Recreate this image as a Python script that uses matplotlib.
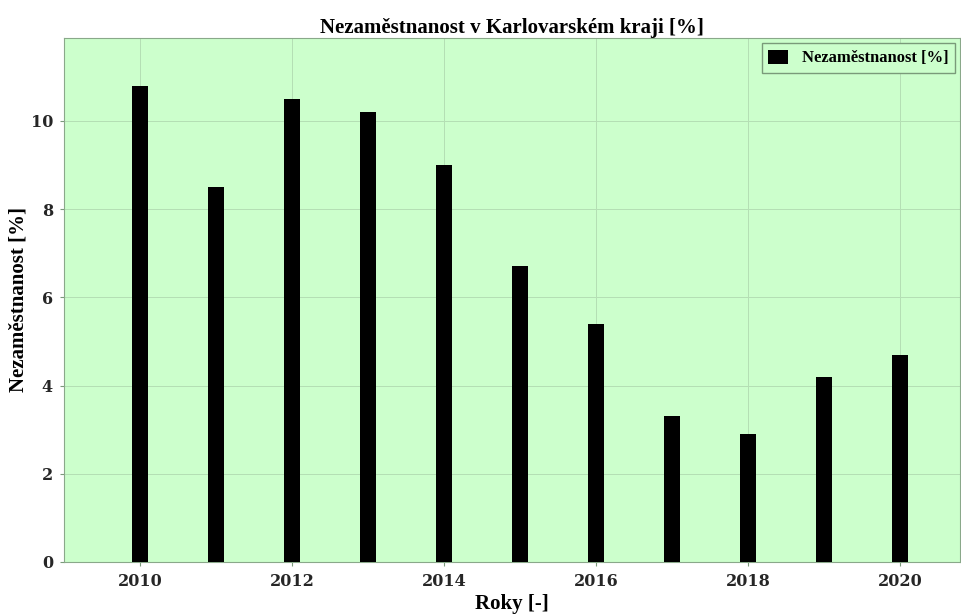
import matplotlib
matplotlib.use("Agg")
import matplotlib.pyplot as plt

years = [2010, 2011, 2012, 2013, 2014, 2015, 2016, 2017, 2018, 2019, 2020]
values = [10.8, 8.5, 10.5, 10.2, 9.0, 6.7, 5.4, 3.3, 2.9, 4.2, 4.7]
xticks = [2010, 2012, 2014, 2016, 2018, 2020]
yticks = [0, 2, 4, 6, 8, 10]

plt.rcParams['font.family'] = ['Liberation Serif', 'DejaVu Serif']
plt.rcParams['font.weight'] = 'bold'

fig = plt.figure(figsize=(9.62, 6.16), dpi=100)
ax_left, ax_w = 64/962, (960-64)/962
ax = fig.add_axes([ax_left, 1-562/616, ax_w, (562-38)/616])
ax.set_facecolor('#ccffcc')
ax.bar(years, values, width=0.21, color='black', label='Nezaměstnanost [%]', zorder=3)
ax.set_xlim(2009, 2020.79)
ax.set_ylim(0, 11.88)
ax.set_xticks(xticks)
ax.set_yticks(yticks)
ax.grid(True, color='#b4dfb4', linewidth=0.7, zorder=0)
for s in ax.spines.values():
    s.set_color('#8aa88a')
ax.tick_params(length=3, colors='#7a9a7a', labelcolor='#262626', labelsize=11.5, pad=5)
for lab in ax.get_xticklabels() + ax.get_yticklabels():
    lab.set_fontfamily('DejaVu Serif')
    lab.set_fontweight('bold')
ax.set_title('Nezaměstnanost v Karlovarském kraji [%]', fontsize=15, fontweight='bold', pad=3)
ax.set_xlabel('Roky [-]', fontsize=15, fontweight='bold', labelpad=3)
ax.set_ylabel('Nezaměstnanost [%]', fontsize=15, fontweight='bold')
ax.yaxis.set_label_coords((29 - 64) / (960 - 64), 0.5)
leg = ax.legend(loc='upper right', fontsize=12, frameon=True, fancybox=False,
                borderaxespad=0.3, handlelength=1.2, handleheight=0.9)
leg.get_frame().set_edgecolor('#7a9a7a')
leg.get_frame().set_facecolor('#ccffcc')
leg.get_frame().set_alpha(1)
fig.savefig('out.png', dpi=100)
